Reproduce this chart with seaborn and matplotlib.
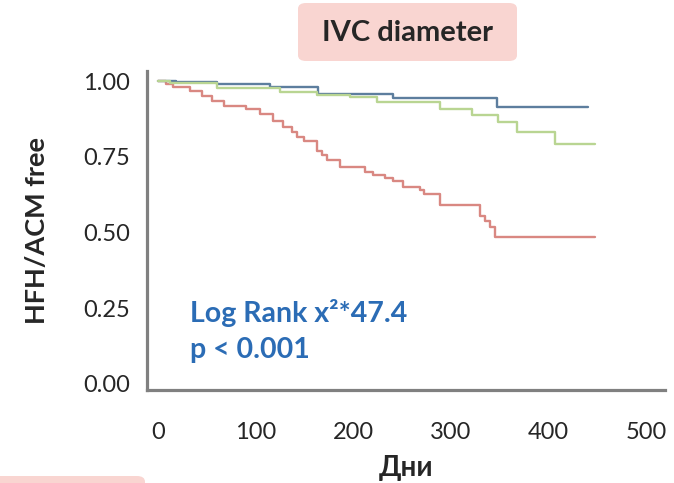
import pandas as pd
import matplotlib.pyplot as plt
import seaborn as sns
from matplotlib.patches import FancyBboxPatch

# Kaplan-Meier step points (day, survival)
red_days = [0, 8, 15, 33, 45, 55, 68, 90, 105, 118, 128, 137, 142, 150, 163, 168, 173, 186,
            212, 220, 232, 241, 251, 268, 272, 289, 330, 335, 340, 345, 448]
red_surv = [1.0, 0.991, 0.981, 0.968, 0.951, 0.935, 0.918, 0.908, 0.892, 0.869, 0.849, 0.832,
            0.816, 0.802, 0.769, 0.756, 0.740, 0.717, 0.700, 0.690, 0.680, 0.670, 0.651, 0.641,
            0.627, 0.591, 0.555, 0.538, 0.518, 0.485, 0.485]
blue_days = [0, 18, 60, 115, 164, 241, 347, 440]
blue_surv = [1.0, 0.997, 0.991, 0.981, 0.958, 0.945, 0.915, 0.915]
green_days = [0, 12, 60, 125, 163, 197, 224, 289, 322, 348, 368, 407, 448]
green_surv = [1.0, 0.994, 0.978, 0.964, 0.955, 0.948, 0.931, 0.908, 0.888, 0.865, 0.832, 0.793, 0.793]

groups = ["dilated", "normal", "intermediate"]
colors = {"dilated": "#d98882", "normal": "#5d7e9e", "intermediate": "#b9d592"}

y_ticks = [0.0, 0.25, 0.5, 0.75, 1.0]
x_ticks = [0, 100, 200, 300, 400, 500]

df = pd.concat([
    pd.DataFrame({"day": red_days, "surv": red_surv, "group": "dilated"}),
    pd.DataFrame({"day": blue_days, "surv": blue_surv, "group": "normal"}),
    pd.DataFrame({"day": green_days, "surv": green_surv, "group": "intermediate"}),
])

sns.set_style("white")
plt.rcParams["font.family"] = ["Lato", "DejaVu Sans"]

fig = plt.figure(figsize=(6.74, 4.83), dpi=100)
ax = fig.add_axes([0.218, 0.193, 0.769, 0.660])

sns.lineplot(data=df, x="day", y="surv", hue="group", hue_order=groups, palette=colors,
             estimator=None, sort=False, drawstyle="steps-post", linewidth=1.7,
             legend=False, ax=ax)

ax.set_xlim(-11.3, 519.5)
ax.set_ylim(-0.02, 1.034)
ax.set_xticks(x_ticks)
ax.set_yticks(y_ticks)
ax.set_yticklabels([f"{v:.2f}" for v in y_ticks])
ax.tick_params(axis="both", length=0, labelsize=17)
ax.tick_params(axis="x", pad=23)
ax.tick_params(axis="y", pad=12)

for side in ["top", "right"]:
    ax.spines[side].set_visible(False)
for side in ["left", "bottom"]:
    ax.spines[side].set_color("#808080")
    ax.spines[side].set_linewidth(2.3)

ax.set_xlabel("Дни", fontsize=20, fontweight="bold", labelpad=9)
ax.set_ylabel("HFH/ACM free", fontsize=19.5, fontweight="bold", labelpad=25)

ax.text(33, 0.205, "Log Rank x²*47.4", color="#2b6cb5", fontsize=20.5, fontweight="bold", va="baseline")
ax.text(33, 0.086, "p < 0.001", color="#2b6cb5", fontsize=20.5, fontweight="bold", va="baseline")

# title badge
fig.patches.append(FancyBboxPatch((298 / 674, 1 - 61 / 483), 219 / 674, 58 / 483,
                                  boxstyle="round,pad=0,rounding_size=0.012",
                                  transform=fig.transFigure, facecolor="#f9d5d1",
                                  edgecolor="none", zorder=0))
fig.text(408 / 674, 1 - 33 / 483, "IVC diameter", fontsize=21, fontweight="bold",
         ha="center", va="center")
# partial badge at the bottom edge
fig.patches.append(FancyBboxPatch((-0.02, -0.05), 145 / 674 + 0.02, 7 / 483 + 0.05,
                                  boxstyle="round,pad=0,rounding_size=0.012",
                                  transform=fig.transFigure, facecolor="#f9d5d1",
                                  edgecolor="none", zorder=0))

plt.savefig("out.png", dpi=100)
